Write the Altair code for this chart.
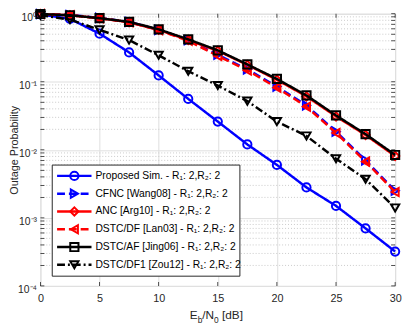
import altair as alt
import pandas as pd

FONT = "Liberation Sans"

# ---------------- data ----------------
snr_db = [0, 2.5, 5, 7.5, 10, 12.5, 15, 17.5, 20, 22.5, 25, 27.5, 30]

proposed = [0.98, 0.84, 0.51, 0.27, 0.124, 0.056, 0.026, 0.012, 0.006, 0.0028, 0.0015, 0.0007, 0.00032]
cfnc     = [0.99, 0.96, 0.87, 0.76, 0.58, 0.41, 0.25, 0.152, 0.085, 0.045, 0.0185, 0.0070, 0.0025]
anc      = [0.99, 0.95, 0.86, 0.75, 0.58, 0.41, 0.285, 0.177, 0.107, 0.061, 0.031, 0.0165, 0.0081]
dstc_df  = [0.99, 0.95, 0.86, 0.75, 0.575, 0.40, 0.24, 0.147, 0.082, 0.043, 0.0177, 0.0067, 0.0024]
dstc_af  = [0.99, 0.95, 0.86, 0.76, 0.59, 0.42, 0.29, 0.18, 0.11, 0.063, 0.032, 0.017, 0.0084]
dstc_df1 = [0.95, 0.82, 0.58, 0.41, 0.245, 0.143, 0.088, 0.052, 0.026, 0.016, 0.0074, 0.0037, 0.0014]

series_names = [
    "Proposed Sim. - R\u2081: 2,R\u2082: 2",
    "CFNC [Wang08] - R\u2081: 2,R\u2082: 2",
    "ANC [Arg10] - R\u2081: 2,R\u2082: 2",
    "DSTC/DF [Lan03] - R\u2081: 2,R\u2082: 2",
    "DSTC/AF [Jing06] - R\u2081: 2,R\u2082: 2",
    "DSTC/DF1 [Zou12] - R\u2081: 2,R\u2082: 2",
]
series_values = [proposed, cfnc, anc, dstc_df, dstc_af, dstc_df1]
series_colors = ["#0000ff", "#0000ff", "#ff0000", "#ff0000", "#000000", "#000000"]
series_dash = [[1, 0], [8, 4], [1, 0], [8, 4], [1, 0], [8, 3, 2, 3]]
series_shapes = ["circle", "triangle-right", "diamond", "triangle-left", "square", "triangle-down"]

x_ticks = [0, 5, 10, 15, 20, 25, 30]
y_ticks = [1e-4, 1e-3, 1e-2, 1e-1, 1]
y_tick_labels = ["10\u207b\u2074", "10\u207b\u00b3", "10\u207b\u00b2", "10\u207b\u00b9", "10\u2070"]
y_minor = [m * 10.0 ** d for d in range(-4, 0) for m in range(2, 10)]

y_title = "Outage Probability"
# x title pieces: (text, is_subscript)
x_title_pieces = [("E", False), ("b", True), ("/N", False), ("0", True), (" [dB]", False)]

# legend placement in data units
legend_box_x = [1.0, 16.87]
legend_box_y = [5.97e-3, 1.39e-4]
legend_line_x = [1.41, 4.32]
legend_marker_x = 2.87
legend_text_x = 4.65
legend_row_log_top = -2.383
legend_row_log_step = -0.2614

# ---------------- layout ----------------
W, H = 361, 277
PAD = {"left": 33, "top": 3, "right": 8, "bottom": 40}
AX = "#262626"

x_scale = alt.Scale(domain=[0, 30], nice=False, zero=False)
y_scale = alt.Scale(type="log", domain=[1e-4, 1], nice=False)

label_expr = ""
for v, lab in zip(y_ticks[:-1], y_tick_labels[:-1]):
    label_expr += f"datum.value < {v * 5} ? '{lab}' : "
label_expr += f"'{y_tick_labels[-1]}'"

x_axis = alt.Axis(values=x_ticks, grid=True, gridColor="#dedede", gridWidth=1,
                  domain=False, ticks=False, tickSize=0, labelPadding=7,
                  labelFontSize=11, labelFont=FONT, labelColor=AX,
                  title=None, labelFlush=False)
y_axis = alt.Axis(values=y_ticks, labelExpr=label_expr, grid=True, gridColor="#dedede",
                  gridWidth=1, domain=False, ticks=False, tickSize=0, labelPadding=4,
                  labelOffset=4, labelFontSize=10.5, labelFont=FONT, labelColor=AX,
                  title=y_title, titleX=-23, titleY=H / 2, titleAngle=270,
                  titleAlign="center", titleBaseline="alphabetic", titleFontSize=11,
                  titleFont=FONT, titleFontWeight="normal", titleColor=AX,
                  labelFlush=False)

X = alt.X("x:Q", scale=x_scale, axis=x_axis)
Y = alt.Y("y:Q", scale=y_scale, axis=y_axis)

layers = []

# minor dotted grid
minor_df = pd.DataFrame({"y": y_minor})
layers.append(alt.Chart(minor_df).mark_rule(color="#c9c9c9", strokeWidth=1,
                                            strokeDash=[1, 2]).encode(y=Y))

# inward ticks (box on all sides)
xt_df = pd.DataFrame({"x": x_ticks})
for yv in (H - 2, 2):
    layers.append(alt.Chart(xt_df).mark_tick(orient="vertical", size=4, thickness=0.8,
                                             color=AX, opacity=1)
                  .encode(x=X, y=alt.value(yv)))
yt_df = pd.DataFrame({"y": y_ticks + y_minor})
for xv in (2, W - 2):
    layers.append(alt.Chart(yt_df).mark_tick(orient="horizontal", size=4, thickness=0.8,
                                             color=AX, opacity=1)
                  .encode(y=Y, x=alt.value(xv)))

# series
for name, vals, col, dash, shp in zip(series_names, series_values, series_colors,
                                      series_dash, series_shapes):
    df = pd.DataFrame({"x": snr_db, "y": vals})
    c = alt.Chart(df)
    layers.append(c.mark_line(color=col, strokeWidth=2.5, strokeDash=dash).encode(x=X, y=Y))
    layers.append(c.mark_point(color=col, shape=shp, size=70, filled=False,
                               strokeWidth=2, opacity=1).encode(x=X, y=Y))

# legend box
box_df = pd.DataFrame({"x": [legend_box_x[0]], "x2": [legend_box_x[1]],
                       "y": [legend_box_y[0]], "y2": [legend_box_y[1]]})
layers.append(alt.Chart(box_df).mark_rect(fill="white", stroke=AX, strokeWidth=1)
              .encode(x=X, x2="x2:Q", y=Y, y2="y2:Q"))

rows_y = [10 ** (legend_row_log_top + legend_row_log_step * i) for i in range(len(series_names))]
for i, (name, col, dash, shp) in enumerate(zip(series_names, series_colors,
                                               series_dash, series_shapes)):
    ldf = pd.DataFrame({"x": [legend_line_x[0]], "x2": [legend_line_x[1]], "y": [rows_y[i]]})
    layers.append(alt.Chart(ldf).mark_rule(color=col, strokeWidth=2.5, strokeDash=dash)
                  .encode(x=X, x2="x2:Q", y=Y))
    mdf = pd.DataFrame({"x": [legend_marker_x], "y": [rows_y[i]]})
    layers.append(alt.Chart(mdf).mark_point(color=col, shape=shp, size=70, filled=False,
                                            strokeWidth=2, opacity=1).encode(x=X, y=Y))

tdf = pd.DataFrame({"x": [legend_text_x] * len(series_names), "y": rows_y,
                    "label": series_names})
layers.append(alt.Chart(tdf).mark_text(align="left", baseline="middle", fontSize=10.5,
                                       font=FONT, color="#000000")
              .encode(x=X, y=Y, text="label:N"))

# x-axis title built from pieces (for subscripts)
MAIN_FS, SUB_FS = 12, 8.5
char_w = {"E": 0.667, "b": 0.556, "/": 0.278, "N": 0.722, "0": 0.556, " ": 0.278,
          "[": 0.278, "d": 0.556, "B": 0.667, "]": 0.278}
cur = 193 - 41
for txt, sub in x_title_pieces:
    fs = SUB_FS if sub else MAIN_FS
    yb = (326 - 11) if sub else (322 - 11)
    lead = len(txt) - len(txt.lstrip(" "))
    shown = txt.lstrip(" ")
    xpos = cur + lead * char_w[" "] * fs
    layers.append(alt.Chart(pd.DataFrame({"t": [shown]})).mark_text(
        align="left", baseline="alphabetic", fontSize=fs, font=FONT, color=AX)
        .encode(x=alt.value(xpos), y=alt.value(yb), text="t:N"))
    cur += sum(char_w[ch] for ch in txt) * fs

chart = alt.layer(*layers).properties(
    width=W, height=H, padding=PAD,
    autosize=alt.AutoSizeParams(type="none"),
).configure_view(stroke=AX, strokeWidth=1).configure(background="white")

chart.save("out.html", embed_options={"renderer": "svg", "actions": False})
